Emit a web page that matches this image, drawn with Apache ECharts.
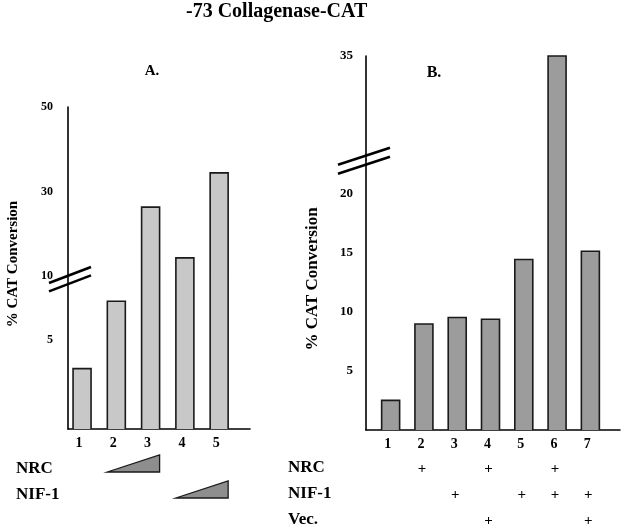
<!DOCTYPE html>
<html><head><meta charset="utf-8">
<script src="https://cdn.jsdelivr.net/npm/echarts@6/dist/echarts.min.js"></script>
<style>html,body{margin:0;padding:0;background:#fff}#c{width:624px;height:528px}</style>
</head><body><div id="c"></div>
<script>
// ---------------- data ----------------
const chartTitle = '-73 Collagenase-CAT';
const yName = '% CAT Conversion';
const panelNames = ['A.', 'B.'];

const catsA = ['1', '2', '3', '4', '5'];
const valsA = [3.4, 7.2, 26.3, 14.3, 34.4];
const ticksA = [5, 10, 30, 50];
const rampLabelsA = ['NRC', 'NIF-1'];
const rampLanesA = [[2, 3], [4, 5]];

const catsB = ['1', '2', '3', '4', '5', '6', '7'];
const valsB = [2.5, 8.95, 9.5, 9.35, 14.4, 35, 15.1];
const ticksB = [5, 10, 15, 20, 35];
const rowLabelsB = ['NRC', 'NIF-1', 'Vec.'];
const nrcB = [0, 1, 0, 1, 0, 1, 0];
const nif1B = [0, 0, 1, 0, 1, 1, 1];
const vecB = [0, 0, 0, 1, 0, 0, 1];

// ---------------- layout ----------------
const W = 624, H = 528;
const FONT = '"Liberation Serif", "Times New Roman", serif';
const A = { ax: 68, end: 250, base: 429, join: 276, top: 107, loMax: 8.62, hi: [10, 50], x: [0.59, 5.9], bw: 18,
            fill: '#c8c8c8', ySize: 12, yMargin: 15, nameSize: 15, nameX: 13, nameY: 264 };
const B = { ax: 366, end: 620, base: 430, join: 160, top: 56, loMax: 22.8, hi: [30, 35], x: [0.26, 7.89], bw: 18,
            fill: '#9c9c9c', ySize: 13, yMargin: 13, nameSize: 17, nameX: 313, nameY: 279 };
const STROKE = '#1a1a1a';

function gridOf(p, top, bottomY) {
  return { left: p.ax, right: W - p.end, top: top, bottom: H - bottomY };
}
function xAx(gi, p, cats, show) {
  return {
    type: 'value', gridIndex: gi, min: p.x[0], max: p.x[1],
    splitLine: { show: false }, axisTick: { show: false },
    axisLine: { show: show, onZero: false, lineStyle: { color: '#000', width: 1.6 } },
    axisLabel: {
      show: show, customValues: cats.map((c, i) => i + 1),
      formatter: v => cats[Math.round(v) - 1] || '',
      padding: [0, 6, 0, 0],
      margin: 7, fontFamily: FONT, fontWeight: 'bold', fontSize: 14, color: '#000'
    }
  };
}
function yAx(gi, p, min, max, ticks) {
  return {
    type: 'value', gridIndex: gi, min: min, max: max,
    splitLine: { show: false }, axisTick: { show: false },
    axisLine: { show: true, onZero: false, lineStyle: { color: '#000', width: 1.6 } },
    axisLabel: {
      customValues: ticks.filter(t => t >= min && t <= max),
      margin: p.yMargin, fontFamily: FONT, fontWeight: 'bold', fontSize: p.ySize, color: '#000'
    }
  };
}
function renderer(p, mode) {
  return function (params, api) {
    const x = api.value(0), v = api.value(1);
    let baseV, topV, cut = false;
    if (mode === 'lo') { baseV = 0; cut = v > p.loMax; topV = cut ? p.loMax : v; }
    else { baseV = p.hi[0]; topV = v; }
    const t = api.coord([x, topV]);
    const b = api.coord([x, baseV]);
    const l = t[0] - p.bw / 2, r = t[0] + p.bw / 2;
    const children = [{
      type: 'rect', shape: { x: l, y: t[1], width: p.bw, height: b[1] - t[1] },
      style: { fill: p.fill, stroke: null }
    }];
    if (cut) {
      children.push({ type: 'polyline', shape: { points: [[l, b[1]], [l, t[1]]] }, style: { stroke: STROKE, lineWidth: 1.6, fill: null } });
      children.push({ type: 'polyline', shape: { points: [[r, b[1]], [r, t[1]]] }, style: { stroke: STROKE, lineWidth: 1.6, fill: null } });
    } else {
      children.push({ type: 'polyline', shape: { points: [[l, b[1]], [l, t[1]], [r, t[1]], [r, b[1]]] }, style: { stroke: STROKE, lineWidth: 1.6, fill: null } });
    }
    return { type: 'group', children: children };
  };
}
function pairs(vals) { return vals.map((v, i) => [i + 1, v]); }

const chart = echarts.init(document.getElementById('c'), null, { renderer: 'canvas' });
chart.setOption({
  animation: false,
  backgroundColor: '#fff',
  title: {
    text: chartTitle, left: 186, top: 2, padding: 0,
    textStyle: { fontFamily: FONT, fontWeight: 'bold', fontSize: 20, color: '#000' }
  },
  grid: [
    gridOf(A, A.join, A.base), gridOf(A, A.top, A.join),
    gridOf(B, B.join, B.base), gridOf(B, B.top, B.join)
  ],
  xAxis: [xAx(0, A, catsA, true), xAx(1, A, catsA, false), xAx(2, B, catsB, true), xAx(3, B, catsB, false)],
  yAxis: [
    yAx(0, A, 0, A.loMax, ticksA), yAx(1, A, A.hi[0], A.hi[1], ticksA),
    yAx(2, B, 0, B.loMax, ticksB), yAx(3, B, B.hi[0], B.hi[1], ticksB)
  ],
  series: [
    { type: 'custom', xAxisIndex: 0, yAxisIndex: 0, renderItem: renderer(A, 'lo'), data: pairs(valsA), encode: { x: 0, y: 1 } },
    { type: 'custom', xAxisIndex: 1, yAxisIndex: 1, renderItem: renderer(A, 'hi'), data: pairs(valsA).filter(d => d[1] > A.loMax), encode: { x: 0, y: 1 } },
    { type: 'custom', xAxisIndex: 2, yAxisIndex: 2, renderItem: renderer(B, 'lo'), data: pairs(valsB), encode: { x: 0, y: 1 } },
    { type: 'custom', xAxisIndex: 3, yAxisIndex: 3, renderItem: renderer(B, 'hi'), data: pairs(valsB).filter(d => d[1] > B.loMax), encode: { x: 0, y: 1 } }
  ]
});

// ---------------- decorations ----------------
function px(gi, lane) { return chart.convertToPixel({ xAxisIndex: gi, yAxisIndex: gi }, [lane, 0]); }
function txt(text, x, y, size, align, rot) {
  return {
    type: 'text', x: x, y: y, rotation: rot || 0, z: 10,
    style: { text: text, font: 'bold ' + size + 'px ' + FONT, fill: '#000', textAlign: align || 'center', textVerticalAlign: 'middle' }
  };
}
function line(x1, y1, x2, y2, w) {
  return { type: 'line', z: 10, shape: { x1, y1, x2, y2 }, style: { stroke: '#000', lineWidth: w } };
}
const g = [];
g.push(txt(panelNames[0], 152, 71, 15));
g.push(txt(panelNames[1], 434, 73, 16));
g.push(txt(yName, A.nameX, A.nameY, A.nameSize, 'center', Math.PI / 2));
g.push(txt(yName, B.nameX, B.nameY, B.nameSize, 'center', Math.PI / 2));

// axis break marks
const joinA = chart.convertToPixel({ xAxisIndex: 0, yAxisIndex: 0 }, [A.x[0], A.loMax])[1] + 4;
[-4.2, 4.2].forEach(d => g.push(line(A.ax - 19, joinA + d + 7.2, A.ax + 23, joinA + d - 8.8, 2.6)));
const joinB = chart.convertToPixel({ xAxisIndex: 2, yAxisIndex: 2 }, [B.x[0], B.loMax])[1];
[-4.5, 4.5].forEach(d => g.push(line(B.ax - 28, joinB + d + 9.2, B.ax + 24, joinB + d - 7.8, 2.6)));

// panel A treatment rows with ramps
const rowY = [468, 494, 520];
rampLabelsA.forEach((lab, r) => {
  g.push(txt(lab, 16, rowY[r] + 1, 17, 'left'));
  const xl = px(0, rampLanesA[r][0])[0] - A.bw / 2;
  const xr = px(0, rampLanesA[r][1])[0] + A.bw / 2;
  g.push({
    type: 'polygon', z: 10,
    shape: { points: [[xl, rowY[r] + 4], [xr, rowY[r] + 4], [xr, rowY[r] - 13]] },
    style: { fill: '#8e8e8e', stroke: STROKE, lineWidth: 1.3 }
  });
});

// panel B treatment rows with plus signs
const rowsB = [nrcB, nif1B, vecB];
rowLabelsB.forEach((lab, r) => {
  g.push(txt(lab, 288, rowY[r], 17, 'left'));
  rowsB[r].forEach((on, i) => {
    if (on) g.push(txt('+', px(2, i + 1)[0] - 2, rowY[r] + 1, 15));
  });
});
chart.setOption({ graphic: { elements: g } });
</script>
</body></html>
